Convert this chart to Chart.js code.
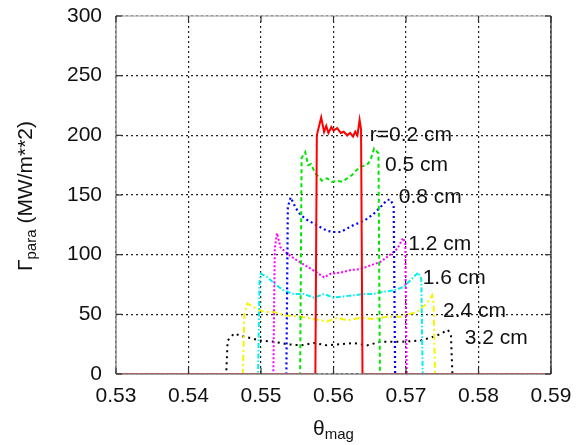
<!DOCTYPE html>
<html>
<head>
<meta charset="utf-8">
<script src="https://cdn.jsdelivr.net/npm/chart.js@4/dist/chart.umd.min.js"></script>
<style>
html,body{margin:0;padding:0;background:#fff;}
canvas{display:block;}
</style>
</head>
<body>
<canvas id="c" width="576" height="445"></canvas>
<script>
// ---- data ----
const xTicks = [0.53, 0.54, 0.55, 0.56, 0.57, 0.58, 0.59];
const yTicks = [0, 50, 100, 150, 200, 250, 300];

const r02x = [0.53, 0.5575, 0.5577, 0.5583, 0.5587, 0.559, 0.5593, 0.5597, 0.56, 0.5605, 0.561, 0.5614, 0.5619, 0.5623, 0.5627, 0.563, 0.5633, 0.5636, 0.5638, 0.5640, 0.59];
const r02y = [0, 0, 200, 215, 203, 208, 202, 207, 204, 206, 202, 203, 200, 202, 199, 203, 200, 213, 205, 0, 0];

const r05x = [0.53, 0.5554, 0.5556, 0.5561, 0.5565, 0.5569, 0.5575, 0.558, 0.5584, 0.5591, 0.5598, 0.5605, 0.5612, 0.5619, 0.5626, 0.5632, 0.5639, 0.5646, 0.5651, 0.5656, 0.5662, 0.5664, 0.59];
const r05y = [0, 0, 181, 186, 175, 176, 168, 165, 162, 164, 161, 162, 161, 164, 167, 171, 174, 175, 179, 189, 185, 0, 0];

const r08x = [0.53, 0.5535, 0.5537, 0.5541, 0.5548, 0.5555, 0.5564, 0.5573, 0.5582, 0.5591, 0.56, 0.561, 0.5619, 0.5628, 0.5637, 0.5646, 0.5655, 0.5665, 0.5674, 0.5679, 0.5683, 0.5685, 0.59];
const r08y = [0, 0, 140, 148, 139, 133, 129, 126, 123, 120, 119, 119, 122, 125, 127, 130, 134, 140, 146, 146, 140, 0, 0];

const r12x = [0.53, 0.5517, 0.5519, 0.5522, 0.5527, 0.5536, 0.555, 0.5564, 0.5577, 0.5587, 0.5596, 0.561, 0.5623, 0.5637, 0.5651, 0.5665, 0.5678, 0.5688, 0.5696, 0.5699, 0.5701, 0.59];
const r12y = [0, 0, 105, 118, 106, 101, 95, 90, 85, 81, 84, 85, 87, 88, 91, 94, 100, 105, 114, 110, 0, 0];

const r16x = [0.53, 0.5496, 0.5498, 0.55, 0.5509, 0.5518, 0.5531, 0.5545, 0.5559, 0.5573, 0.5587, 0.56, 0.5614, 0.5628, 0.5642, 0.5655, 0.5669, 0.5683, 0.5697, 0.571, 0.5717, 0.5721, 0.5723, 0.59];
const r16y = [0, 0, 78, 84, 81, 76, 70, 67, 67, 64, 67, 64, 65, 66, 67, 67, 69, 70, 73, 81, 85, 80, 0, 0];

const r24x = [0.53, 0.5475, 0.5477, 0.5481, 0.549, 0.5504, 0.5518, 0.5536, 0.5555, 0.5573, 0.5591, 0.5605, 0.5619, 0.5637, 0.5655, 0.5674, 0.5692, 0.5715, 0.5729, 0.5736, 0.5738, 0.574, 0.59];
const r24y = [0, 0, 50, 59, 56, 52, 52, 49, 48, 46, 44, 47, 45, 47, 46, 48, 48, 52, 59, 66, 60, 0, 0];

const r32x = [0.53, 0.5452, 0.5454, 0.5463, 0.5472, 0.5486, 0.5499, 0.5518, 0.5536, 0.5555, 0.5573, 0.5591, 0.561, 0.5628, 0.5646, 0.5665, 0.5692, 0.572, 0.5742, 0.5758, 0.5762, 0.5764, 0.59];
const r32y = [0, 0, 28, 34, 32, 30, 28, 27, 25, 24, 26, 24, 25, 26, 24, 27, 27, 28, 32, 37, 32, 0, 0];

const curveLabels = ["r=0.2 cm", "0.5 cm", "0.8 cm", "1.2 cm", "1.6 cm", "2.4 cm", "3.2 cm"];
const labelAtX = [0.5650, 0.5671, 0.5690, 0.5703, 0.5723, 0.5751, 0.5781];
const labelAtY = [200, 175, 148, 109, 80, 53, 30];

// ---- build ----
function pts(xs, ys){ return xs.map((x,i)=>({x:x, y:ys[i]})); }
const FONT = "'Liberation Sans', Arial, sans-serif";
const series = [
  {d: pts(r02x, r02y), c: '#ff0000', dash: [], w: 2},
  {d: pts(r05x, r05y), c: '#00e600', dash: [4,3], w: 2},
  {d: pts(r08x, r08y), c: '#0000ff', dash: [2,3], w: 2.2},
  {d: pts(r12x, r12y), c: '#ff00ff', dash: [2,2], w: 2},
  {d: pts(r16x, r16y), c: '#00f0f0', dash: [5,2,1.5,2], w: 2},
  {d: pts(r24x, r24y), c: '#f5f500', dash: [6,3,2,3], w: 2},
  {d: pts(r32x, r32y), c: '#000000', dash: [2,4], w: 2}
];

const annot = {
  id: 'annot',
  afterDatasetsDraw(chart){
    const ctx = chart.ctx, xs = chart.scales.x, ys = chart.scales.y;
    ctx.save();
    ctx.fillStyle = '#111';
    ctx.font = '21px ' + FONT;
    ctx.textAlign = 'left';
    ctx.textBaseline = 'middle';
    curveLabels.forEach((t,i)=>{
      ctx.fillText(t, xs.getPixelForValue(labelAtX[i]), ys.getPixelForValue(labelAtY[i]));
    });
    // x title
    const cx = (chart.chartArea.left + chart.chartArea.right)/2;
    ctx.textBaseline = 'alphabetic';
    ctx.font = '21px ' + FONT;
    const w1 = ctx.measureText('θ').width;
    ctx.font = '15px ' + FONT;
    const w2 = ctx.measureText('mag').width;
    let sx = cx - (w1+w2)/2;
    ctx.font = '21px ' + FONT;
    ctx.fillText('θ', sx, 435);
    ctx.font = '15px ' + FONT;
    ctx.fillText('mag', sx + w1, 439);
    // y title
    ctx.translate(26, 196);
    ctx.rotate(-Math.PI/2);
    ctx.font = '21px ' + FONT;
    const a = ctx.measureText('Γ').width;
    ctx.font = '15px ' + FONT;
    const b = ctx.measureText('para').width;
    ctx.font = '21px ' + FONT;
    const c = ctx.measureText(' (MW/m**2)').width;
    let px = -(a+b+c)/2;
    ctx.textBaseline = 'middle';
    ctx.fillText('Γ', px, 0);
    ctx.font = '15px ' + FONT;
    ctx.fillText('para', px + a, 6);
    ctx.font = '21px ' + FONT;
    ctx.fillText(' (MW/m**2)', px + a + b, 0);
    ctx.restore();
  }
};

const frame = {
  id: 'frame',
  afterDraw(chart){
    const {ctx, chartArea: a, scales} = chart;
    ctx.save();
    ctx.setLineDash([]);
    ctx.lineWidth = 1.5;
    const seg = (x1,y1,x2,y2,col)=>{ ctx.strokeStyle = col; ctx.beginPath(); ctx.moveTo(x1,y1); ctx.lineTo(x2,y2); ctx.stroke(); };
    seg(a.left, a.top, a.right, a.top, '#bbb');
    seg(a.left, a.bottom, a.right, a.bottom, '#888');
    seg(a.left, a.top, a.left, a.bottom, '#888');
    seg(a.right, a.top, a.right, a.bottom, '#444');
    ctx.lineWidth = 1.2;
    xTicks.forEach(v=>{
      const x = scales.x.getPixelForValue(v);
      seg(x, a.top, x, a.top + 6, '#333');
      seg(x, a.bottom, x, a.bottom - 6, '#333');
    });
    yTicks.forEach(v=>{
      const y = scales.y.getPixelForValue(v);
      seg(a.left, y, a.left + 6, y, '#333');
      seg(a.right, y, a.right - 6, y, '#333');
    });
    ctx.restore();
  }
};

new Chart(document.getElementById('c'), {
  type: 'line',
  data: {
    datasets: series.map(s => ({
      data: s.d, borderColor: s.c, borderDash: s.dash, borderWidth: s.w,
      pointRadius: 0, tension: 0, fill: false
    }))
  },
  options: {
    responsive: false,
    animation: false,
    devicePixelRatio: 1,
    layout: {padding: {left: 0, right: 25, top: 16, bottom: 0}},
    plugins: {legend: {display: false}, tooltip: {enabled: false}},
    scales: {
      x: {
        type: 'linear', min: 0.53, max: 0.59,
        afterBuildTicks(scale){ scale.ticks = xTicks.map(v=>({value:v})); },
        afterFit(scale){ scale.height = 71; scale.paddingLeft = 0; scale.paddingRight = 0; },
        ticks: {callback: v => v.toFixed(2), color: '#111', font: {family: FONT, size: 21}, padding: 10, maxRotation: 0, autoSkip: false},
        grid: {color: '#222', lineWidth: 1.2, drawTicks: false},
        border: {display: false, dash: [2,3]}
      },
      y: {
        type: 'linear', min: 0, max: 300,
        afterBuildTicks(scale){ scale.ticks = yTicks.map(v=>({value:v})); },
        afterFit(scale){ scale.width = 116; scale.paddingTop = 0; scale.paddingBottom = 0; },
        ticks: {color: '#111', font: {family: FONT, size: 21}, padding: 14},
        grid: {color: '#222', lineWidth: 1.2, drawTicks: false},
        border: {display: false, dash: [2,3]}
      }
    }
  },
  plugins: [annot, frame]
});
</script>
</body>
</html>
